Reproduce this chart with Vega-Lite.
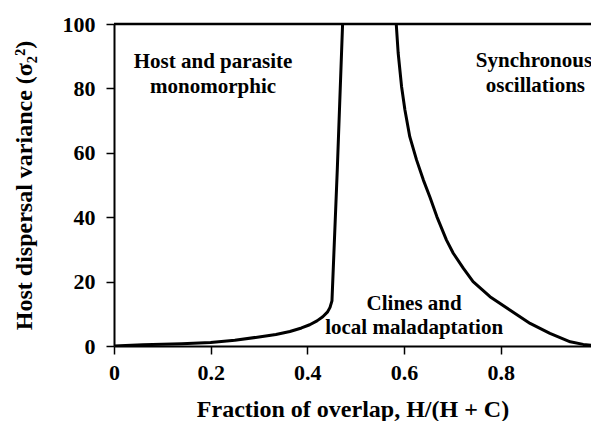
{
  "$schema": "https://vega.github.io/schema/vega-lite/v6.json",
  "autosize": {"type": "none"},
  "width": 477,
  "height": 322,
  "padding": {"left": 114, "top": 24, "right": 0, "bottom": 75},
  "background": "white",
  "config": {
    "view": {"stroke": null},
    "font": "Liberation Serif",
    "axis": {"grid": false, "domainColor": "black", "domainWidth": 2, "tickColor": "black", "tickWidth": 1.5, "tickSize": 8,
      "labelFont": "Liberation Serif", "labelFontWeight": "bold", "labelFontSize": 22, "labelColor": "black",
      "titleFont": "Liberation Serif", "titleFontWeight": "bold", "titleFontSize": 24, "titleColor": "black"}
  },
  "datasets": {
    "curves": [
      {"s": "left", "x": 0.0, "y": 0.0},
      {"s": "left", "x": 0.06, "y": 0.4},
      {"s": "left", "x": 0.14, "y": 0.7},
      {"s": "left", "x": 0.2, "y": 1.1},
      {"s": "left", "x": 0.25, "y": 1.8},
      {"s": "left", "x": 0.3, "y": 2.8},
      {"s": "left", "x": 0.335, "y": 3.6},
      {"s": "left", "x": 0.364, "y": 4.5},
      {"s": "left", "x": 0.388, "y": 5.6},
      {"s": "left", "x": 0.405, "y": 6.6},
      {"s": "left", "x": 0.42, "y": 7.8},
      {"s": "left", "x": 0.432, "y": 9.1},
      {"s": "left", "x": 0.442, "y": 10.6},
      {"s": "left", "x": 0.447, "y": 12.0},
      {"s": "left", "x": 0.451, "y": 14.0},
      {"s": "left", "x": 0.462, "y": 54.7},
      {"s": "left", "x": 0.473, "y": 100},
      {"s": "right", "x": 0.584, "y": 100},
      {"s": "right", "x": 0.588, "y": 91.0},
      {"s": "right", "x": 0.595, "y": 80.6},
      {"s": "right", "x": 0.602, "y": 73.3},
      {"s": "right", "x": 0.612, "y": 65.0},
      {"s": "right", "x": 0.626, "y": 57.8},
      {"s": "right", "x": 0.64, "y": 51.6},
      {"s": "right", "x": 0.654, "y": 46.1},
      {"s": "right", "x": 0.668, "y": 40.2},
      {"s": "right", "x": 0.688, "y": 32.9},
      {"s": "right", "x": 0.702, "y": 28.8},
      {"s": "right", "x": 0.723, "y": 24.1},
      {"s": "right", "x": 0.743, "y": 20.0},
      {"s": "right", "x": 0.778, "y": 15.3},
      {"s": "right", "x": 0.819, "y": 11.2},
      {"s": "right", "x": 0.861, "y": 7.0},
      {"s": "right", "x": 0.902, "y": 3.9},
      {"s": "right", "x": 0.944, "y": 1.3},
      {"s": "right", "x": 0.971, "y": 0.5},
      {"s": "right", "x": 0.987, "y": 0.2}
    ],
    "labels": [
      {"x": 0.205, "y": 86.3, "t": "Host and parasite"},
      {"x": 0.205, "y": 78.6, "t": "monomorphic"},
      {"x": 0.869, "y": 86.6, "t": "Synchronous"},
      {"x": 0.872, "y": 79.0, "t": "oscillations"},
      {"x": 0.621, "y": 11.2, "t": "Clines and"},
      {"x": 0.621, "y": 3.7, "t": "local maladaptation"}
    ]
  },
  "layer": [
    {
      "data": {"values": [{"v": 100}]},
      "mark": {"type": "rule", "color": "black", "strokeWidth": 2.5},
      "encoding": {"y": {"field": "v", "type": "quantitative", "scale": {"domain": [0, 100]}}}
    },
    {
      "data": {"name": "curves"},
      "mark": {"type": "line", "color": "black", "strokeWidth": 3, "clip": true, "strokeJoin": "round"},
      "encoding": {
        "x": {"field": "x", "type": "quantitative",
          "scale": {"domain": [0, 0.987], "nice": false, "zero": false},
          "axis": {"values": [0, 0.2, 0.4, 0.6, 0.8], "format": "~g", "labelPadding": 8, "title": "Fraction of overlap, H/(H + C)", "titlePadding": 14, "labelFlush": false}},
        "y": {"field": "y", "type": "quantitative",
          "scale": {"domain": [0, 100], "nice": false},
          "axis": {"values": [0, 20, 40, 60, 80, 100], "labelPadding": 11, "title": "Host dispersal variance (σ₂²)", "titlePadding": 26}},
        "detail": {"field": "s"}
      }
    },
    {
      "data": {"name": "labels"},
      "mark": {"type": "text", "font": "Liberation Serif", "fontWeight": "bold", "fontSize": 21, "color": "black", "align": "center", "baseline": "alphabetic"},
      "encoding": {
        "x": {"field": "x", "type": "quantitative"},
        "y": {"field": "y", "type": "quantitative"},
        "text": {"field": "t"}
      }
    }
  ]
}
